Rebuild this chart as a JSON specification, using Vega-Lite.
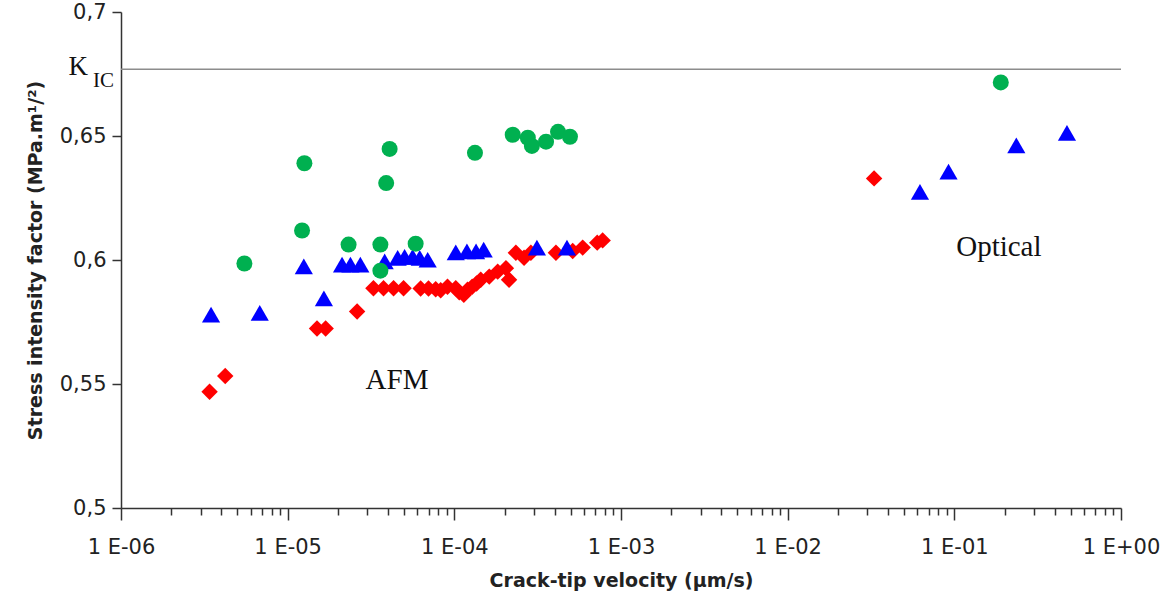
{
  "$schema": "https://vega.github.io/schema/vega-lite/v6.json",
  "width": 1000,
  "height": 496,
  "autosize": {"type": "none"},
  "padding": {"left": 121, "top": 12, "right": 43, "bottom": 95},
  "background": "white",
  "config": {
    "view": {"stroke": null},
    "axis": {"grid": false, "domainColor": "#333333", "domainWidth": 1.5, "tickColor": "#333333", "tickWidth": 1.5, "labelFont": "DejaVu Sans", "labelColor": "#222222", "titleFont": "DejaVu Sans", "titleColor": "#222222", "titleFontWeight": "bold"}
  },
  "datasets": {
    "pts": [
      {"series": "red", "v": 3.4e-6, "k": 0.5469},
      {"series": "red", "v": 4.22e-6, "k": 0.5532},
      {"series": "red", "v": 1.5e-5, "k": 0.5724},
      {"series": "red", "v": 1.69e-5, "k": 0.5724},
      {"series": "red", "v": 2.61e-5, "k": 0.5792},
      {"series": "red", "v": 3.27e-5, "k": 0.5886},
      {"series": "red", "v": 3.76e-5, "k": 0.5886},
      {"series": "red", "v": 4.32e-5, "k": 0.5886},
      {"series": "red", "v": 4.96e-5, "k": 0.5886},
      {"series": "red", "v": 6.28e-5, "k": 0.5885},
      {"series": "red", "v": 7.0e-5, "k": 0.5885},
      {"series": "red", "v": 7.73e-5, "k": 0.5882},
      {"series": "red", "v": 8.28e-5, "k": 0.5878},
      {"series": "red", "v": 9.1e-5, "k": 0.5892},
      {"series": "red", "v": 1.02e-4, "k": 0.5886},
      {"series": "red", "v": 1.07e-4, "k": 0.587},
      {"series": "red", "v": 1.14e-4, "k": 0.586},
      {"series": "red", "v": 1.2e-4, "k": 0.588},
      {"series": "red", "v": 1.28e-4, "k": 0.5892},
      {"series": "red", "v": 1.36e-4, "k": 0.5905},
      {"series": "red", "v": 1.44e-4, "k": 0.592},
      {"series": "red", "v": 1.62e-4, "k": 0.5933},
      {"series": "red", "v": 1.82e-4, "k": 0.5953},
      {"series": "red", "v": 2.04e-4, "k": 0.5967},
      {"series": "red", "v": 2.13e-4, "k": 0.592},
      {"series": "red", "v": 2.34e-4, "k": 0.6029},
      {"series": "red", "v": 2.62e-4, "k": 0.6009},
      {"series": "red", "v": 2.88e-4, "k": 0.6029},
      {"series": "red", "v": 4.07e-4, "k": 0.6029},
      {"series": "red", "v": 5.13e-4, "k": 0.6036},
      {"series": "red", "v": 5.89e-4, "k": 0.605},
      {"series": "red", "v": 7.2e-4, "k": 0.607},
      {"series": "red", "v": 7.76e-4, "k": 0.6079},
      {"series": "red", "v": 0.033, "k": 0.6329},
      {"series": "blue", "v": 3.47e-6, "k": 0.578},
      {"series": "blue", "v": 6.8e-6, "k": 0.5787},
      {"series": "blue", "v": 1.25e-5, "k": 0.5974},
      {"series": "blue", "v": 1.65e-5, "k": 0.5845},
      {"series": "blue", "v": 2.12e-5, "k": 0.5981},
      {"series": "blue", "v": 2.38e-5, "k": 0.5981},
      {"series": "blue", "v": 2.73e-5, "k": 0.5981},
      {"series": "blue", "v": 3.82e-5, "k": 0.5994},
      {"series": "blue", "v": 4.57e-5, "k": 0.6009},
      {"series": "blue", "v": 5.03e-5, "k": 0.6013},
      {"series": "blue", "v": 5.62e-5, "k": 0.6013},
      {"series": "blue", "v": 6.2e-5, "k": 0.6009},
      {"series": "blue", "v": 6.92e-5, "k": 0.6001},
      {"series": "blue", "v": 1.02e-4, "k": 0.6031},
      {"series": "blue", "v": 1.19e-4, "k": 0.6035},
      {"series": "blue", "v": 1.35e-4, "k": 0.6035},
      {"series": "blue", "v": 1.5e-4, "k": 0.6042},
      {"series": "blue", "v": 3.13e-4, "k": 0.605},
      {"series": "blue", "v": 4.74e-4, "k": 0.605},
      {"series": "blue", "v": 0.0622, "k": 0.6275},
      {"series": "blue", "v": 0.0923, "k": 0.6356},
      {"series": "blue", "v": 0.2355, "k": 0.6462},
      {"series": "blue", "v": 0.474, "k": 0.6513},
      {"series": "green", "v": 5.5e-6, "k": 0.5986},
      {"series": "green", "v": 1.26e-5, "k": 0.639},
      {"series": "green", "v": 1.22e-5, "k": 0.6119},
      {"series": "green", "v": 2.32e-5, "k": 0.6062},
      {"series": "green", "v": 4.09e-5, "k": 0.6448},
      {"series": "green", "v": 3.9e-5, "k": 0.631},
      {"series": "green", "v": 3.6e-5, "k": 0.6062},
      {"series": "green", "v": 3.6e-5, "k": 0.5957},
      {"series": "green", "v": 5.86e-5, "k": 0.6066},
      {"series": "green", "v": 1.33e-4, "k": 0.6432},
      {"series": "green", "v": 2.24e-4, "k": 0.6505},
      {"series": "green", "v": 2.76e-4, "k": 0.6493},
      {"series": "green", "v": 2.92e-4, "k": 0.646},
      {"series": "green", "v": 3.55e-4, "k": 0.6477},
      {"series": "green", "v": 4.19e-4, "k": 0.6517},
      {"series": "green", "v": 4.94e-4, "k": 0.6497},
      {"series": "green", "v": 0.19, "k": 0.6716}
    ],
    "kic": [{"v": 1e-6, "v2": 1, "k": 0.6769}],
    "notes": [
      {"label": "AFM", "v": 4.53e-5, "k": 0.5516},
      {"label": "Optical", "v": 0.185, "k": 0.6052}
    ]
  },
  "layer": [
    {
      "data": {"name": "kic"},
      "mark": {"type": "rule", "color": "#8c8c8c", "strokeWidth": 1.5},
      "encoding": {
        "x": {"field": "v", "type": "quantitative"},
        "x2": {"field": "v2"},
        "y": {"field": "k", "type": "quantitative"}
      }
    },
    {
      "data": {"name": "pts"},
      "transform": [{"filter": "datum.series === 'red'"}],
      "mark": {"type": "point", "shape": "diamond", "filled": true, "color": "#ff0000", "size": 270, "opacity": 1, "strokeWidth": 0},
      "encoding": {
        "x": {"field": "v", "type": "quantitative"},
        "y": {"field": "k", "type": "quantitative"}
      }
    },
    {
      "data": {"name": "pts"},
      "transform": [{"filter": "datum.series === 'blue'"}],
      "mark": {"type": "point", "shape": "triangle-up", "filled": true, "color": "#0000ff", "size": 330, "opacity": 1, "strokeWidth": 0},
      "encoding": {
        "x": {"field": "v", "type": "quantitative"},
        "y": {"field": "k", "type": "quantitative"}
      }
    },
    {
      "data": {"name": "pts"},
      "transform": [{"filter": "datum.series === 'green'"}],
      "mark": {"type": "point", "shape": "circle", "filled": true, "color": "#00b050", "size": 256, "opacity": 1, "strokeWidth": 0},
      "encoding": {
        "x": {"field": "v", "type": "quantitative"},
        "y": {"field": "k", "type": "quantitative"}
      }
    },
    {
      "data": {"name": "kic"},
      "mark": {"type": "text", "text": "K", "font": "Liberation Serif", "fontSize": 27, "align": "right", "baseline": "alphabetic", "dx": -33, "dy": 6, "color": "#111111"},
      "encoding": {
        "x": {"field": "v", "type": "quantitative"},
        "y": {"field": "k", "type": "quantitative"}
      }
    },
    {
      "data": {"name": "kic"},
      "mark": {"type": "text", "text": "IC", "font": "Liberation Serif", "fontSize": 21, "align": "right", "baseline": "alphabetic", "dx": -7, "dy": 18, "color": "#111111"},
      "encoding": {
        "x": {"field": "v", "type": "quantitative"},
        "y": {"field": "k", "type": "quantitative"}
      }
    },
    {
      "data": {"name": "notes"},
      "mark": {"type": "text", "font": "Liberation Serif", "fontSize": 29, "align": "center", "baseline": "middle", "color": "#111111"},
      "encoding": {
        "text": {"field": "label"},
        "x": {"field": "v", "type": "quantitative"},
        "y": {"field": "k", "type": "quantitative"}
      }
    }
  ],
  "encoding": {
    "x": {
      "field": "v",
      "type": "quantitative",
      "scale": {"type": "log", "domain": [1e-6, 1], "nice": false},
      "axis": {
        "title": "Crack-tip velocity (µm/s)",
        "titleFontSize": 19,
        "titlePadding": 14,
        "labelFontSize": 21,
        "labelPadding": 16,
        "labelOverlap": false,
        "labelFlush": false,
        "values": [1e-6, 2e-6, 3e-6, 4e-6, 5e-6, 6e-6, 7e-6, 8e-6, 9e-6, 1e-5, 2e-5, 3e-5, 4e-5, 5e-5, 6e-5, 7e-5, 8e-5, 9e-5, 1e-4, 2e-4, 3e-4, 4e-4, 5e-4, 6e-4, 7e-4, 8e-4, 9e-4, 1e-3, 2e-3, 3e-3, 4e-3, 5e-3, 6e-3, 7e-3, 8e-3, 9e-3, 1e-2, 2e-2, 3e-2, 4e-2, 5e-2, 6e-2, 7e-2, 8e-2, 9e-2, 0.1, 0.2, 0.3, 0.4, 0.5, 0.6, 0.7, 0.8, 0.9, 1],
        "labelExpr": "abs(log(datum.value)/LN10 - round(log(datum.value)/LN10)) < 0.001 ? '1 E' + (round(log(datum.value)/LN10) < 0 ? '-' : '+') + format(abs(round(log(datum.value)/LN10)), '02d') : ''",
        "tickSize": {"condition": {"test": "abs(log(datum.value)/LN10 - round(log(datum.value)/LN10)) < 0.001", "value": 12}, "value": 7}
      }
    },
    "y": {
      "field": "k",
      "type": "quantitative",
      "scale": {"domain": [0.5, 0.7], "nice": false, "zero": false},
      "axis": {
        "title": "Stress intensity factor (MPa.m¹/²)",
        "titleFontSize": 19,
        "titlePadding": 14,
        "labelFontSize": 21,
        "labelPadding": 6,
        "tickSize": 9,
        "values": [0.5, 0.55, 0.6, 0.65, 0.7],
        "format": ".2~f",
        "labelExpr": "replace(datum.label, '.', ',')"
      }
    }
  }
}
